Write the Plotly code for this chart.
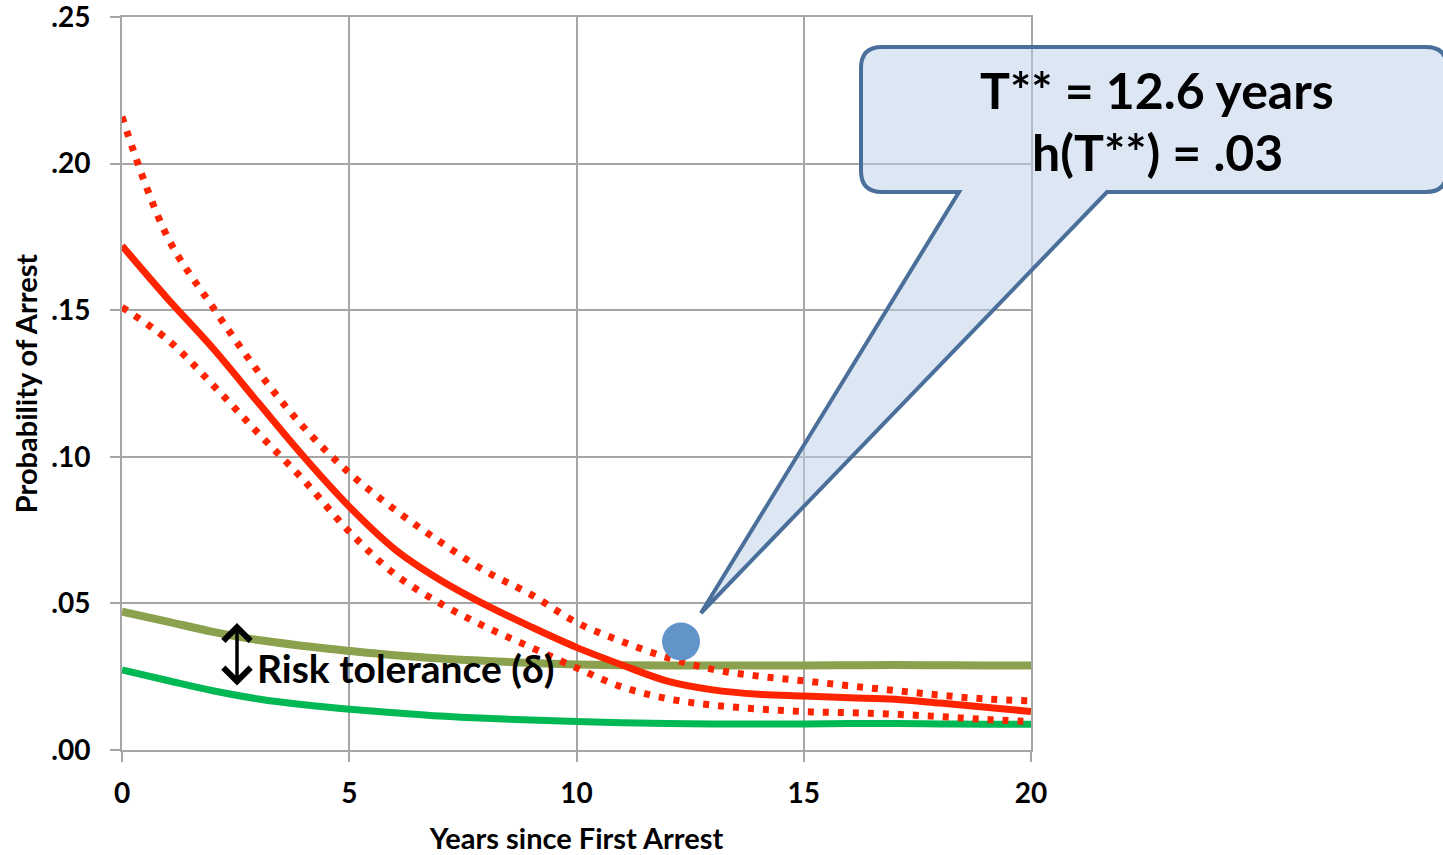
import plotly.graph_objects as go

# ---- data ----
years = list(range(0, 21))
hazard = [0.172, 0.154, 0.137, 0.1184, 0.100, 0.083, 0.0685, 0.058, 0.0495, 0.042, 0.035,
          0.029, 0.0235, 0.0205, 0.0190, 0.0184, 0.0178, 0.0173, 0.0160, 0.0146, 0.0131]
hazard_upper = [0.216, 0.175, 0.151, 0.129, 0.110, 0.0945, 0.082, 0.071, 0.061, 0.053, 0.0435,
                0.037, 0.0315, 0.0275, 0.0252, 0.0236, 0.0219, 0.0203, 0.0187, 0.0174, 0.0168]
hazard_lower = [0.151, 0.140, 0.1245, 0.108, 0.092, 0.0745, 0.060, 0.050, 0.042, 0.035, 0.028,
                0.0215, 0.0175, 0.0153, 0.0140, 0.0131, 0.0127, 0.0122, 0.0114, 0.0104, 0.0097]
tolerance_upper = [0.0472, 0.0438, 0.0403, 0.0375, 0.0355, 0.0338, 0.0323, 0.0312, 0.0304, 0.0297, 0.0292,
                   0.0289, 0.0288, 0.0288, 0.0288, 0.0288, 0.0289, 0.0290, 0.0289, 0.0288, 0.0288]
baseline = [0.0273, 0.0237, 0.0202, 0.0174, 0.0154, 0.0139, 0.0127, 0.0116, 0.0108, 0.0102, 0.0097,
            0.0093, 0.0090, 0.0089, 0.0089, 0.0089, 0.0090, 0.0090, 0.0089, 0.0088, 0.0088]
t_star = [12.3]
h_star = [0.037]

x_ticks = [0, 5, 10, 15, 20]
x_ticklabels = ["0", "5", "10", "15", "20"]
y_ticks = [0, 0.05, 0.10, 0.15, 0.20, 0.25]
y_ticklabels = [".00", ".05", ".10", ".15", ".20", ".25"]

callout_lines = ["T** = 12.6 years", "h(T**) = .03"]
tolerance_label = "Risk tolerance (δ)"

# ---- layout geometry (pixels) ----
W, H = 1443, 855
ML, MR, MT, MB = 122, 412, 17, 105
PW, PH = W - ML - MR, H - MT - MB


def px(x):
    return (x - ML) / PW


def py(y):
    return (H - MB - y) / PH


RED = "#FF2400"
OLIVE = "#8BA14D"
GREEN = "#00B854"
GRID = "#A6A6A6"
FONT = "Lato"

fig = go.Figure()
fig.add_trace(go.Scatter(x=years, y=baseline, mode="lines",
                         line=dict(color=GREEN, width=7, shape="spline")))
fig.add_trace(go.Scatter(x=years, y=tolerance_upper, mode="lines",
                         line=dict(color=OLIVE, width=8, shape="spline")))
fig.add_trace(go.Scatter(x=years, y=hazard_upper, mode="lines",
                         line=dict(color=RED, width=7, shape="spline", dash="6px,9px")))
fig.add_trace(go.Scatter(x=years, y=hazard_lower, mode="lines",
                         line=dict(color=RED, width=7, shape="spline", dash="6px,9px")))
fig.add_trace(go.Scatter(x=years, y=hazard, mode="lines",
                         line=dict(color=RED, width=7, shape="spline")))
fig.add_trace(go.Scatter(x=t_star, y=h_star, mode="markers",
                         marker=dict(color="#6394C9", size=38, line=dict(width=0))))

# callout bubble
L, T, R, B, r = 861, 47, 1447, 192, 21
b1, b2, tip = 959, 1107, (701, 613)


def P(x, y):
    return f"{px(x):.5f},{py(y):.5f}"


path = (f"M {P(L + r, T)} L {P(R - r, T)} Q {P(R, T)} {P(R, T + r)} "
        f"L {P(R, B - r)} Q {P(R, B)} {P(R - r, B)} L {P(b2, B)} L {P(*tip)} "
        f"L {P(b1, B)} L {P(L + r, B)} Q {P(L, B)} {P(L, B - r)} "
        f"L {P(L, T + r)} Q {P(L, T)} {P(L + r, T)} Z")
fig.add_shape(type="path", path=path, xref="paper", yref="paper", layer="above",
              fillcolor="rgba(190,209,233,0.52)",
              line=dict(color="#4B6F9B", width=4))

fig.add_annotation(x=px(1157), y=py(90), xref="paper", yref="paper", showarrow=False,
                   text=callout_lines[0], font=dict(family=FONT, size=50, color="black", weight="bold"),
                   xanchor="center", yanchor="middle")
fig.add_annotation(x=px(1157), y=py(152), xref="paper", yref="paper", showarrow=False,
                   text=callout_lines[1], font=dict(family=FONT, size=50, color="black", weight="bold"),
                   xanchor="center", yanchor="middle")

# risk tolerance label and double arrow
fig.add_annotation(x=px(255), y=py(668), xref="paper", yref="paper", showarrow=False,
                   text=tolerance_label, font=dict(family=FONT, size=39, color="black", weight="bold"),
                   xanchor="left", yanchor="middle")
fig.add_annotation(x=px(237), y=py(623), xref="paper", yref="paper", text="",
                   showarrow=True, ax=0, ay=64, arrowside="end+start", arrowhead=4,
                   arrowsize=1.5, arrowwidth=3.5, arrowcolor="black", standoff=0, startstandoff=0)

axis_common = dict(showgrid=True, gridcolor=GRID, gridwidth=2, zeroline=False,
                   showline=True, linecolor=GRID, linewidth=2, mirror=True,
                   ticks="outside", ticklen=10, tickwidth=2, tickcolor=GRID, automargin=False,
                   ticklabeloverflow="allow",
                   tickfont=dict(family=FONT, size=28, color="black", weight="bold"))

fig.update_xaxes(range=[0, 20], tickvals=x_ticks, ticktext=x_ticklabels,
                 ticklabelstandoff=7,
                 title=dict(text="Years since First Arrest", standoff=21,
                            font=dict(family=FONT, size=29, color="black", weight="bold")),
                 **axis_common)
fig.update_yaxes(range=[0, 0.25], tickvals=y_ticks, ticktext=y_ticklabels,
                 ticklabelstandoff=14,
                 title=dict(text="Probability of Arrest", standoff=5,
                            font=dict(family=FONT, size=29, color="black", weight="bold")),
                 **axis_common)

fig.update_layout(width=W, height=H, margin=dict(l=ML, r=MR, t=MT, b=MB, autoexpand=False),
                  paper_bgcolor="white", plot_bgcolor="white", showlegend=False,
                  hovermode=False)

fig.write_html("out.html")
